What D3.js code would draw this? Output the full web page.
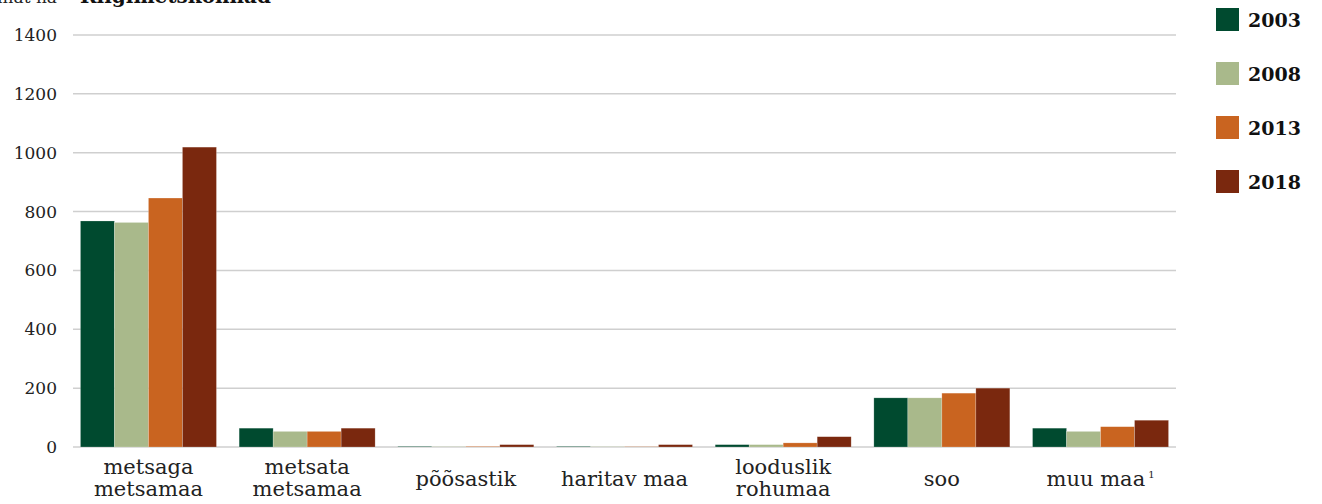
<!DOCTYPE html>
<html>
<head>
<meta charset="utf-8">
<script src="https://cdn.jsdelivr.net/npm/d3@7"></script>
<style>
  body { margin: 0; background: #fff; }
  svg { display: block; font-family: "DejaVu Serif", serif; }
  .grid line { stroke: #cfcfcf; stroke-width: 1.5px; }
  .tick-label { font-size: 17px; fill: #222; text-anchor: end; }
  .cat { font-size: 21px; fill: #222; text-anchor: middle; }
  .legend text { font-size: 19px; font-weight: bold; fill: #111; }
</style>
</head>
<body>
<div id="chart"></div>
<script>
// data
const categories = [
  ['metsaga', 'metsamaa'],
  ['metsata', 'metsamaa'],
  ['põõsastik'],
  ['haritav maa'],
  ['looduslik', 'rohumaa'],
  ['soo'],
  ['muu maa']
]
const years = ['2003', '2008', '2013', '2018']
const v2003 = [768, 64, 2, 2, 8, 167, 64]
const v2008 = [763, 53, 1, 1, 8, 167, 53]
const v2013 = [846, 53, 2, 1, 14, 183, 69]
const v2018 = [1019, 64, 8, 8, 35, 200, 91]
const yTicks = [0, 200, 400, 600, 800, 1000, 1200, 1400]
const colors = ['#004a2f', '#a9b98b', '#c96420', '#7a280e']

//consts
const
  width = 1322,
  height = 504,
  plotLeft = 73,
  plotRight = 1176,
  plotTop = 35,
  plotBottom = 447

const series = [v2003, v2008, v2013, v2018]

const svg = d3.select('#chart')
  .append('svg')
  .attr('width', width)
  .attr('height', height)

const x0 = d3.scaleBand()
  .domain(d3.range(categories.length))
  .range([plotLeft, plotRight])
  .paddingInner(0.143)
  .paddingOuter(0.047)

const x1 = d3.scaleBand()
  .domain(years)
  .range([0, x0.bandwidth()])

const y = d3.scaleLinear()
  .domain([0, 1400])
  .range([plotBottom, plotTop])

//title (cut off at the top, as in the source)
svg.append('text')
  .attr('x', 57)
  .attr('y', 3)
  .attr('text-anchor', 'end')
  .style('font-size', '17px')
  .style('fill', '#222')
  .text('tuhat ha')
svg.append('text')
  .attr('x', 80)
  .attr('y', 3)
  .style('font-size', '20px')
  .style('font-weight', 'bold')
  .style('fill', '#111')
  .text('Riigimetskonnad')

//grid
svg.append('g')
  .attr('class', 'grid')
  .selectAll('line')
  .data(yTicks)
  .enter()
  .append('line')
  .attr('x1', plotLeft)
  .attr('x2', plotRight)
  .attr('y1', d => y(d))
  .attr('y2', d => y(d))

//tick labels
svg.append('g')
  .selectAll('text')
  .data(yTicks)
  .enter()
  .append('text')
  .attr('class', 'tick-label')
  .attr('x', 57)
  .attr('y', d => y(d))
  .attr('dy', '0.35em')
  .text(d => d)

//bars
const group = svg.append('g')
  .selectAll('g')
  .data(categories.map((c, i) => i))
  .enter()
  .append('g')
  .attr('transform', i => 'translate(' + x0(i) + ',0)')

group.selectAll('rect')
  .data(i => years.map((yr, k) => ({ yr, k, value: series[k][i] })))
  .enter()
  .append('rect')
  .attr('x', d => x1(d.yr))
  .attr('width', x1.bandwidth())
  .attr('y', d => y(d.value))
  .attr('height', d => y(0) - y(d.value))
  .attr('fill', d => colors[d.k])
  .attr('stroke', 'rgba(255,255,255,0.35)')
  .attr('stroke-width', 0.6)

//category labels
const labels = svg.append('g')
  .selectAll('text')
  .data(categories)
  .enter()
  .append('text')
  .attr('class', 'cat')
  .attr('transform', (d, i) => 'translate(' + (x0(i) + x0.bandwidth() / 2) + ',0)')

labels.each(function (lines, i) {
  const t = d3.select(this)
  const startY = lines.length > 1 ? 474 : 486
  lines.forEach((line, j) => {
    t.append('tspan')
      .attr('x', 0)
      .attr('y', startY + j * 22)
      .text(line)
  })
  if (i === categories.length - 1) {
    t.append('tspan')
      .attr('dy', -8)
      .attr('dx', 3)
      .style('font-size', '10px')
      .text('1')
  }
})

//legend
const legend = svg.append('g')
  .attr('class', 'legend')
  .selectAll('g')
  .data(years)
  .enter()
  .append('g')
  .attr('transform', (d, i) => 'translate(1216,' + (8 + i * 54) + ')')

legend.append('rect')
  .attr('width', 23)
  .attr('height', 23)
  .attr('fill', (d, i) => colors[i])

legend.append('text')
  .attr('x', 32)
  .attr('y', 12)
  .attr('dy', '0.35em')
  .text(d => d)
</script>
</body>
</html>
